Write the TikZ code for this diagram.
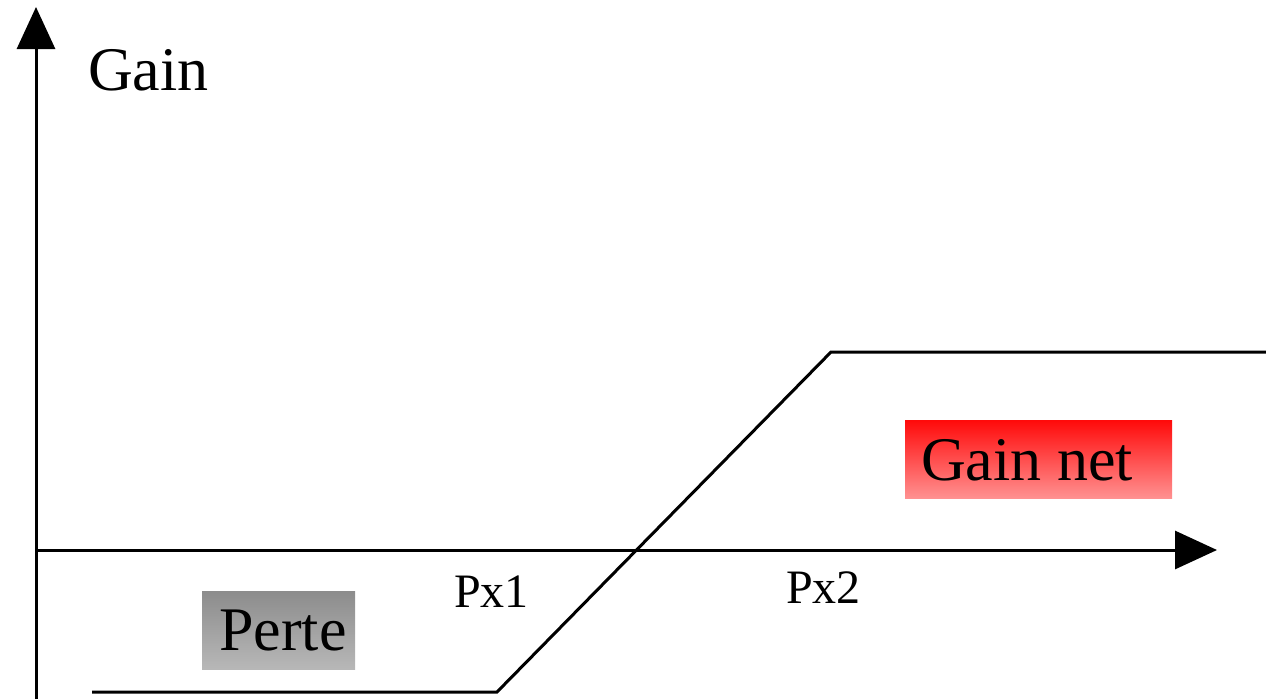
\documentclass[tikz,border=0pt]{standalone}
\usepackage{fontspec}
\setmainfont{Liberation Serif}
\usetikzlibrary{arrows.meta,calc}
\begin{document}
\begin{tikzpicture}[x=1pt,y=-1pt,
  axis/.style={line width=3pt,-{Triangle[length=42pt,width=38pt]}},
  payoff/.style={line width=3pt},
  biglabel/.style={font=\fontsize{62}{62}\selectfont,anchor=base west,inner sep=0pt},
  smalllabel/.style={font=\fontsize{48}{48}\selectfont,anchor=base west,inner sep=0pt},
  gbox/.style={inner sep=0pt,anchor=north west,minimum width=#1}]
\useasboundingbox (0,0) rectangle (1266,699);
% boxes
\node[gbox=153pt,minimum height=78pt,top color=black!45,bottom color=black!28] (perteb) at (202,591) {};
\node[gbox=267pt,minimum height=78pt,top color={rgb,255:red,255;green,10;blue,10},bottom color={rgb,255:red,255;green,145;blue,145}] (gainb) at (905,420) {};
% axes
\coordinate (O) at (36,550);
\coordinate (ybot) at (36,699);
\coordinate (ytop) at (36,7);
\coordinate (xend) at (1217,550);
\draw[axis] (ybot) -- (ytop);
\draw[axis] (O) -- (xend);
% payoff
\coordinate (p0) at (92,692);
\coordinate (p1) at (497,692);
\coordinate (p2) at (831,352);
\coordinate (p3) at (1266,352);
\draw[payoff] (p0) -- (p1) -- (p2) -- (p3);
% labels
\node[biglabel] (gain) at (88,90) {Gain};
\node[biglabel] (gainnet) at ($(gainb.south west)+(16,-18)$) {Gain net};
\node[biglabel] (perte) at ($(perteb.south west)+(17,-19)$) {Perte};
\node[smalllabel] (px1) at (454,607) {Px1};
\node[smalllabel] (px2) at (786,603) {Px2};
\end{tikzpicture}
\end{document}
